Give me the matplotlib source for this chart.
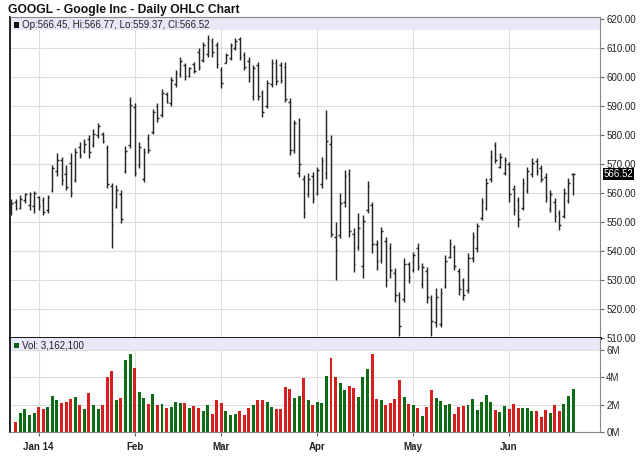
import matplotlib
matplotlib.use("Agg")
import matplotlib.pyplot as plt
from matplotlib.patches import Rectangle
from matplotlib.collections import LineCollection
from matplotlib.ticker import FormatStrFormatter
import matplotlib.transforms as mtransforms
import numpy as np
import pandas as pd

plt.rcParams['font.family'] = ['Liberation Sans', 'DejaVu Sans']

# trading days shown on the chart
holidays = ['2013-12-25', '2014-01-01', '2014-01-20', '2014-02-17', '2014-04-18', '2014-05-26']
dates = pd.bdate_range('2013-12-23', '2014-06-20', freq='C', holidays=holidays)

highs = [558.0, 558.0, 559.3, 560.0, 560.5, 560.7, 559.0, 558.6, 559.3, 569.7,
         573.8, 572.4, 569.7, 573.8, 575.5, 577.6, 578.6, 580.0, 582.0, 584.0,
         581.0, 576.5, 563.3, 562.8, 561.0, 576.2, 593.2, 591.0, 577.7, 575.6,
         580.2, 588.9, 591.1, 595.7, 594.9, 600.1, 602.4, 606.8, 605.0, 603.6,
         605.3, 609.9, 612.2, 614.5, 613.3, 612.2, 603.6, 608.2, 611.6, 613.3,
         613.9, 608.7, 607.0, 604.1, 605.3, 595.5, 599.0, 606.1, 606.1, 605.3,
         605.3, 592.7, 585.2, 585.8, 566.2, 566.8, 567.3, 569.1, 572.5, 588.6,
         580.0, 550.1, 559.9, 567.9, 568.2, 547.8, 553.0, 552.4, 564.1, 557.0,
         543.8, 548.4, 544.9, 542.7, 534.0, 526.0, 537.5, 536.3, 539.8, 542.7,
         535.8, 534.6, 524.8, 527.1, 527.1, 538.6, 544.0, 542.1, 534.0, 530.6,
         539.2, 546.7, 549.5, 558.2, 565.1, 574.8, 577.7, 573.7, 572.5, 570.8,
         562.8, 558.7, 565.1, 569.1, 572.0, 572.0, 569.7, 566.8, 561.0, 558.2,
         554.1, 561.6, 565.1, 566.77]
lows = [552.4, 554.0, 554.5, 556.6, 554.0, 553.0, 554.0, 552.4, 553.0, 560.3,
        566.0, 562.8, 561.0, 558.6, 563.8, 572.0, 573.8, 572.0, 575.9, 579.0,
        577.2, 561.6, 540.9, 554.7, 549.5, 566.8, 575.4, 565.9, 568.5, 563.9,
        573.9, 580.3, 584.6, 586.1, 590.9, 590.0, 596.7, 600.1, 599.0, 600.1,
        601.5, 602.4, 605.3, 607.0, 607.0, 603.0, 596.1, 604.7, 605.9, 609.3,
        605.9, 602.4, 598.4, 592.1, 592.1, 586.3, 589.2, 596.7, 597.2, 597.8,
        591.5, 573.1, 573.7, 565.6, 551.3, 558.7, 556.4, 559.3, 561.6, 565.0,
        544.9, 530.0, 544.4, 555.3, 544.9, 532.9, 540.3, 530.6, 553.0, 539.2,
        533.4, 535.8, 527.7, 530.6, 522.5, 510.7, 522.5, 528.9, 532.9, 533.4,
        527.1, 522.0, 510.7, 513.9, 513.9, 527.1, 537.5, 533.4, 524.8, 523.1,
        525.4, 536.3, 539.8, 550.7, 554.1, 563.9, 570.2, 568.5, 566.2, 557.0,
        552.4, 548.4, 554.1, 559.9, 565.6, 566.2, 563.9, 557.0, 553.6, 550.1,
        547.2, 551.3, 556.4, 559.37]
opens = [553.5, 557.0, 555.0, 557.5, 556.0, 555.5, 558.5, 557.5, 554.0, 561.0,
         567.5, 571.5, 566.5, 570.5, 564.5, 576.0, 574.5, 578.5, 576.5, 580.0,
         580.5, 575.5, 562.5, 555.5, 559.5, 567.5, 576.5, 589.5, 569.5, 565.0,
         579.0, 581.0, 590.0, 587.0, 594.0, 591.0, 597.5, 601.0, 604.0, 600.5,
         604.5, 608.5, 606.0, 608.0, 612.5, 611.0, 602.5, 605.0, 606.5, 610.0,
         613.0, 607.5, 605.5, 593.5, 604.0, 594.5, 590.0, 597.5, 605.0, 604.0,
         603.5, 591.5, 575.0, 567.0, 565.0, 559.5, 566.0, 560.0, 563.0, 567.0,
         577.0, 545.0, 545.5, 557.0, 566.5, 546.0, 541.5, 535.0, 554.0, 556.0,
         542.5, 537.0, 543.5, 541.0, 532.5, 525.0, 523.5, 535.5, 533.5, 541.0,
         528.5, 533.0, 523.5, 515.5, 515.0, 528.0, 538.0, 541.5, 533.0, 530.0,
         526.5, 537.5, 541.0, 551.5, 555.0, 565.0, 576.5, 569.0, 567.0, 570.0,
         561.5, 557.5, 555.0, 561.0, 566.5, 571.0, 568.5, 565.5, 554.5, 557.0,
         553.0, 552.0, 557.5, 566.45]
closes = [556.5, 555.0, 558.0, 559.5, 559.5, 560.0, 555.5, 553.5, 558.5, 568.5,
          571.5, 564.5, 562.0, 560.0, 574.0, 573.0, 577.0, 574.0, 580.5, 583.0,
          578.0, 563.0, 549.0, 561.0, 551.0, 574.5, 590.5, 567.0, 576.0, 574.0,
          575.0, 588.0, 586.0, 594.5, 591.5, 599.0, 601.5, 605.5, 600.5, 603.0,
          602.0, 603.5, 611.0, 613.0, 608.5, 604.5, 598.0, 607.5, 611.0, 612.5,
          607.0, 603.5, 600.0, 603.0, 593.5, 588.0, 598.0, 605.0, 598.5, 599.0,
          592.5, 575.0, 584.0, 570.0, 553.0, 565.0, 558.0, 568.0, 571.0, 578.0,
          546.0, 540.5, 556.5, 566.0, 547.0, 535.5, 548.0, 550.5, 562.5, 542.5,
          536.5, 547.0, 530.0, 533.5, 525.0, 514.0, 535.5, 531.0, 538.5, 534.5,
          534.5, 524.0, 516.0, 524.0, 525.5, 536.5, 542.5, 535.0, 527.0, 525.0,
          537.5, 545.0, 548.5, 557.0, 563.5, 572.5, 571.5, 572.5, 571.5, 559.5,
          554.0, 551.0, 563.5, 567.5, 570.5, 567.5, 565.0, 558.5, 559.5, 552.0,
          549.0, 560.0, 563.5, 566.52]
# volume in millions (first day not shown)
volume = [np.nan, 0.75, 1.36, 1.64, 1.22, 1.36, 1.80, 1.70, 1.83, 2.60,
          2.30, 2.14, 2.20, 2.44, 2.53, 2.00, 1.70, 2.83, 2.00, 1.64,
          2.00, 4.00, 4.44, 2.30, 2.47, 5.28, 5.67, 4.67, 2.90, 2.47,
          2.03, 2.78, 2.00, 2.06, 1.78, 1.83, 2.20, 2.14, 2.14, 1.78,
          1.92, 1.72, 1.50, 2.00, 1.30, 2.36, 2.14, 1.56, 1.22, 1.30,
          1.56, 1.22, 1.78, 2.00, 2.36, 2.36, 2.20, 1.83, 1.70, 1.70,
          3.28, 3.10, 2.47, 2.60, 3.90, 2.30, 2.00, 2.20, 2.08, 4.10,
          5.40, 4.00, 3.55, 3.03, 3.33, 3.17, 2.55, 4.00, 4.60, 5.67,
          2.42, 2.33, 1.94, 2.08, 2.42, 3.78, 2.55, 2.03, 1.97, 1.78,
          1.17, 1.80, 3.08, 2.50, 2.25, 1.97, 2.03, 1.28, 1.80, 1.89,
          1.97, 2.42, 1.58, 2.20, 2.72, 2.17, 1.58, 1.44, 1.86, 1.67,
          2.03, 1.72, 1.78, 1.72, 1.53, 1.53, 1.11, 1.58, 1.36, 1.94,
          1.53, 2.03, 2.64, 3.1621]

title = "GOOGL - Google Inc - Daily OHLC Chart"
price_ticks = list(range(510, 621, 10))
vol_ticks = [0, 2, 4, 6]

x = np.arange(len(dates))
month_pos = [i for i in range(1, len(dates)) if dates[i].month != dates[i - 1].month]
month_lab = ["Jan 14" if dates[i].month == 1 else dates[i].strftime("%b") for i in month_pos]

fig = plt.figure(figsize=(6.4, 4.68), dpi=100)
W, H = 640.0, 468.0
ax = fig.add_axes([10 / W, 1 - 338 / H, 590 / W, 321 / H])
axv = fig.add_axes([10 / W, 1 - 432 / H, 590 / W, 94 / H], sharex=ax)

grid_c = "#dcdcdc"
bar_c = "#262626"
tk = 0.36

# OHLC bars
segs = []
for i in x:
    segs.append([(i, lows[i]), (i, highs[i])])
    segs.append([(i - tk, opens[i]), (i, opens[i])])
    segs.append([(i, closes[i]), (i + tk, closes[i])])
ax.add_collection(LineCollection(segs, colors=bar_c, linewidths=1.05, zorder=3))

ax.set_xlim(-0.28, 128.9)
ax.set_ylim(510, 620.7)
ax.set_yticks(price_ticks)
ax.yaxis.set_major_formatter(FormatStrFormatter("%.2f"))
ax.yaxis.tick_right()
ax.tick_params(axis="y", direction="out", length=3, width=0.8, color="#666666",
               labelsize=7, pad=1.5, labelcolor="#222222")
ax.tick_params(axis="x", length=0, labelbottom=False)
ax.set_xticks(month_pos)
ax.grid(True, color=grid_c, linewidth=0.8, zorder=0)
ax.set_axisbelow(True)
for s in ["top", "right"]:
    ax.spines[s].set_color("#888888")
    ax.spines[s].set_linewidth(0.8)
ax.spines["left"].set_color("#111111")
ax.spines["left"].set_linewidth(1.3)
ax.spines["bottom"].set_color("black")
ax.spines["bottom"].set_linewidth(2.0)
ax.spines["bottom"].set_zorder(5)

# header strip price panel
ax.add_patch(Rectangle((0, 1 - 12.5 / 321), 1, 12.5 / 321, transform=ax.transAxes,
                       facecolor="#e8e8f8", edgecolor="none", zorder=1))
ax.add_patch(Rectangle((4 / 590, 1 - 10.5 / 321), 4.5 / 590, 5.5 / 321, transform=ax.transAxes,
                       facecolor="#111111", edgecolor="none", zorder=4))
ax.text(11.5 / 590, 1 - 7.5 / 321,
        "Op:%.2f, Hi:%.2f, Lo:%.2f, Cl:%.2f" % (opens[-1], highs[-1], lows[-1], closes[-1]),
        transform=ax.transAxes, fontsize=7, va="center", ha="left", color="#222222", zorder=4)

# last price marker on the axis
trans = mtransforms.blended_transform_factory(ax.transAxes, ax.transData)
ax.text(1.006, closes[-1], "%.2f" % closes[-1], transform=trans, fontsize=7, color="white",
        va="center", ha="left", zorder=6,
        bbox=dict(boxstyle="square,pad=0.1", facecolor="black", edgecolor="none"))

# volume
vcol = ["#0d6b16" if c >= o else "#d61f1f" for o, c in zip(opens, closes)]
axv.bar(x, volume, width=0.65, color=vcol, zorder=3)
axv.set_ylim(0, 6.85)
axv.set_yticks(vol_ticks)
axv.set_yticklabels(["%dM" % v for v in vol_ticks])
axv.yaxis.tick_right()
axv.tick_params(axis="y", direction="out", length=3, width=0.8, color="#666666",
                labelsize=7, pad=1.5, labelcolor="#222222")
axv.set_xticks(month_pos)
axv.set_xticklabels(month_lab, fontsize=7, fontweight="bold", color="#222222")
axv.tick_params(axis="x", direction="out", length=3, width=0.8, color="#666666", pad=4)
axv.grid(True, color=grid_c, linewidth=0.8, zorder=0)
axv.set_axisbelow(True)
axv.spines["top"].set_visible(False)
for s in ["bottom", "right"]:
    axv.spines[s].set_color("#888888")
    axv.spines[s].set_linewidth(0.8)
axv.spines["left"].set_color("#111111")
axv.spines["left"].set_linewidth(1.3)

axv.add_patch(Rectangle((0, 1 - 12 / 94), 1, 12 / 94, transform=axv.transAxes,
                        facecolor="#e8e8f8", edgecolor="none", zorder=1))
axv.add_patch(Rectangle((4 / 590, 1 - 10 / 94), 4.5 / 590, 5.5 / 94, transform=axv.transAxes,
                        facecolor="#0d5e14", edgecolor="none", zorder=4))
axv.text(11.5 / 590, 1 - 7 / 94, "Vol: {:,}".format(int(round(volume[-1] * 1e6, -2))),
         transform=axv.transAxes, fontsize=7, va="center", ha="left", color="#222222", zorder=4)

fig.text(8 / W, 1 - 10 / H, title, fontsize=8.7, fontweight="bold", va="center", ha="left",
         color="#111111")

fig.savefig("out.png", dpi=100)
